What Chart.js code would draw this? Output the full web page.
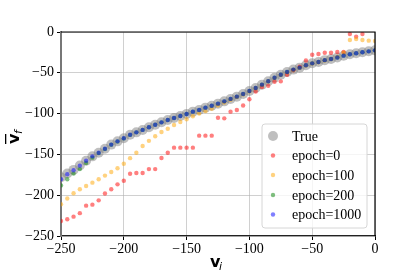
<!DOCTYPE html>
<html>
<head>
<meta charset="utf-8">
<script src="https://cdn.jsdelivr.net/npm/chart.js@4"></script>
<style>
  html, body { margin: 0; padding: 0; background: #fff; }
  #wrap { width: 407px; height: 271px; }
</style>
</head>
<body>
<div id="wrap"><canvas id="velChart" width="407" height="271"></canvas></div>
<script>
// initial velocity (x axis)
var vi = [-250, -245, -240, -235, -230, -225, -220, -215, -210, -205,
  -200, -195, -190, -185, -180, -175, -170, -165, -160, -155,
  -150, -145, -140, -135, -130, -125, -120, -115, -110, -105,
  -100, -95, -90, -85, -80, -75, -70, -65, -60, -55,
  -50, -45, -40, -35, -30, -25, -20, -15, -10, -5, 0];

var trueVf = [-178, -173.5, -169, -163.5, -157.7, -152.4, -147.9, -143, -138, -134,
  -130.3, -126, -123, -120, -116.8, -113.6, -110.7, -107.8, -105.4, -103,
  -100.5, -97.6, -95.5, -92.7, -90.3, -87.8, -85, -82, -79.2, -76,
  -72.3, -68.6, -64.5, -60.3, -56, -52.4, -49, -46.1, -43.7, -40.8,
  -38.4, -36.8, -34.5, -33, -31.2, -29, -27.3, -26, -24.9, -23.7, -22.5];

var epoch0 = [-231.6, -229.5, -226.3, -222, -212.8, -211.6, -206.3, -198, -192.8, -186.7,
  -182.2, -173.8, -172.8, -172.8, -168, -168, -154.4, -147.9, -141.7, -141.7,
  -141.7, -141.7, -127, -127, -127, -105, -105.8, -97.6, -95.6, -90,
  -82.5, -73, -67.5, -66, -61, -60.5, -52.3, -47, -42.5, -35,
  -27.8, -27, -25.4, -25.4, -24.5, -24.5, -2.5, -5.7, -2.5, null, null];

var epoch100 = [-211, -204, -197.7, -192.8, -188.7, -184.6, -180.5, -176, -171.6, -167,
  -161.4, -154.6, -148, -139.7, -133.4, -127.8, -122.5, -118.5, -114, -110.3,
  -107, -103.3, -100, -97, -94, -90, -86.5, -83, -79.8, -76.5,
  -72.8, -69, -64.8, -60.6, -56.5, -52.8, -49.5, -46.5, -44, -41,
  -38.6, -37, -35, -33, -30.5, -25.4, -9.8, -8.5, -9.8, -10.6, -11];

var epoch200 = [-188, -180.5, -173.5, -168, -160.5, -154, -148.4, -143.3, -138.2, -134.2,
  -130.4, -126.1, -123, -120, -116.8, -113.6, -110.7, -107.8, -105.4, -103,
  -100.5, -97.6, -95.5, -92.7, -90.3, -87.8, -85, -82, -79.2, -76,
  -72.3, -68.6, -64.5, -60.3, -56, -52.4, -49, -46.1, -43.7, -40.8,
  -38.4, -36.8, -34.5, -33, -31.2, -29, -27.3, -26, -24.9, -23.7, -22.5];

var epoch1000 = [-180.5, -174.4, -169.5, -163.8, -157.7, -152.4, -147.9, -143, -138, -134,
  -130.3, -126, -123, -120, -116.8, -113.6, -110.7, -107.8, -105.4, -103,
  -100.5, -97.6, -95.5, -92.7, -90.3, -87.8, -85, -82, -79.2, -76,
  -72.3, -68.6, -64.5, -60.3, -56, -52.4, -49, -46.1, -43.7, -40.8,
  -38.4, -36.8, -34.5, -33, -31.2, -29, -27.3, -26, -24.9, -23.7, -22.5];

var tickValues = [-250, -200, -150, -100, -50, 0];

function toPoints(ys) {
  var pts = [];
  ys.forEach(function(y, i) {
    if (y !== null) pts.push({ x: vi[i], y: y });
  });
  return pts;
}

function fmtTick(v) {
  return String(v).replace('-', '\u2212');
}

var serif = '"Liberation Serif", "Times New Roman", serif';

// legend box drawn inside the plot, bottom right
var insideLegend = {
  id: 'insideLegend',
  afterDraw: function(chart) {
    var ctx = chart.ctx;
    var x0 = 262, y0 = 124, w = 105, h = 104, r = 3;
    ctx.save();
    ctx.beginPath();
    ctx.moveTo(x0 + r, y0);
    ctx.arcTo(x0 + w, y0, x0 + w, y0 + h, r);
    ctx.arcTo(x0 + w, y0 + h, x0, y0 + h, r);
    ctx.arcTo(x0, y0 + h, x0, y0, r);
    ctx.arcTo(x0, y0, x0 + w, y0, r);
    ctx.closePath();
    ctx.fillStyle = 'rgba(255,255,255,0.8)';
    ctx.fill();
    ctx.strokeStyle = '#d6d6d6';
    ctx.lineWidth = 1;
    ctx.stroke();
    var rows = [136, 155.5, 175, 195, 214.5];
    chart.data.datasets.forEach(function(ds, i) {
      ctx.beginPath();
      ctx.arc(273, rows[i], ds.pointRadius, 0, Math.PI * 2);
      ctx.fillStyle = ds.backgroundColor;
      ctx.fill();
      ctx.fillStyle = '#000';
      ctx.font = '14px ' + serif;
      ctx.textBaseline = 'middle';
      ctx.textAlign = 'left';
      ctx.fillText(ds.label, 292, rows[i] + 1);
    });
    ctx.restore();
  }
};

// spines on top/right and the axis titles
var frameAndTitles = {
  id: 'frameAndTitles',
  afterDraw: function(chart) {
    var ctx = chart.ctx;
    var a = chart.chartArea;
    ctx.save();
    ctx.strokeStyle = '#000';
    ctx.lineWidth = 1.2;
    ctx.beginPath();
    ctx.moveTo(a.left, a.top);
    ctx.lineTo(a.right, a.top);
    ctx.lineTo(a.right, a.bottom);
    ctx.stroke();

    ctx.fillStyle = '#000';
    ctx.textBaseline = 'alphabetic';
    // x title: bold v, italic subscript i
    ctx.font = 'bold 16px "DejaVu Sans"';
    ctx.textAlign = 'left';
    ctx.fillText('v', 210, 267);
    ctx.font = 'italic 11px "DejaVu Sans"';
    ctx.fillText('i', 219, 270);

    // y title, rotated: overlined bold v, subscript f
    ctx.translate(19, 138);
    ctx.rotate(-Math.PI / 2);
    ctx.font = 'bold 16px "DejaVu Sans"';
    ctx.fillText('v', -6, 0);
    ctx.fillRect(-6, -14, 10, 1.3);
    ctx.font = 'italic 11px "DejaVu Sans"';
    ctx.fillText('f', 4, 3);
    ctx.restore();
  }
};

function makeDataset(label, ys, color, radius, order) {
  return {
    label: label,
    data: toPoints(ys),
    backgroundColor: color,
    borderWidth: 0,
    pointRadius: radius,
    pointHoverRadius: radius,
    showLine: false,
    order: order
  };
}

var ctx = document.getElementById('velChart').getContext('2d');
var velChart = new Chart(ctx, {
  type: 'scatter',
  data: {
    datasets: [
      makeDataset('True', trueVf, 'rgba(128,128,128,0.5)', 5, 5),
      makeDataset('epoch=0', epoch0, 'rgba(255,0,0,0.5)', 2.2, 4),
      makeDataset('epoch=100', epoch100, 'rgba(255,165,0,0.5)', 2.2, 3),
      makeDataset('epoch=200', epoch200, 'rgba(0,128,0,0.5)', 2.2, 2),
      makeDataset('epoch=1000', epoch1000, 'rgba(0,0,255,0.5)', 2.2, 1)
    ]
  },
  options: {
    responsive: false,
    animation: false,
    devicePixelRatio: 1,
    layout: { padding: { top: 32, right: 32, left: 0, bottom: 0 } },
    plugins: {
      legend: { display: false },
      tooltip: { enabled: false }
    },
    scales: {
      x: {
        type: 'linear',
        min: -250,
        max: 0,
        afterBuildTicks: function(scale) {
          scale.ticks = tickValues.map(function(v) { return { value: v }; });
        },
        afterFit: function(scale) { scale.height = 35; },
        ticks: {
          color: '#000',
          font: { family: serif, size: 14 },
          padding: 1,
          maxRotation: 0,
          callback: fmtTick
        },
        grid: {
          color: 'rgba(176,176,176,0.6)',
          tickColor: '#000',
          tickLength: 4,
          lineWidth: 1
        },
        border: { color: '#222', width: 1.2 }
      },
      y: {
        type: 'linear',
        min: -250,
        max: 0,
        afterBuildTicks: function(scale) {
          scale.ticks = tickValues.map(function(v) { return { value: v }; });
        },
        afterFit: function(scale) { scale.width = 61; },
        ticks: {
          color: '#000',
          font: { family: serif, size: 14 },
          padding: 3,
          callback: fmtTick
        },
        grid: {
          color: 'rgba(176,176,176,0.6)',
          tickColor: '#000',
          tickLength: 4,
          lineWidth: 1
        },
        border: { color: '#777', width: 2 }
      }
    }
  },
  plugins: [insideLegend, frameAndTitles]
});
</script>
</body>
</html>
